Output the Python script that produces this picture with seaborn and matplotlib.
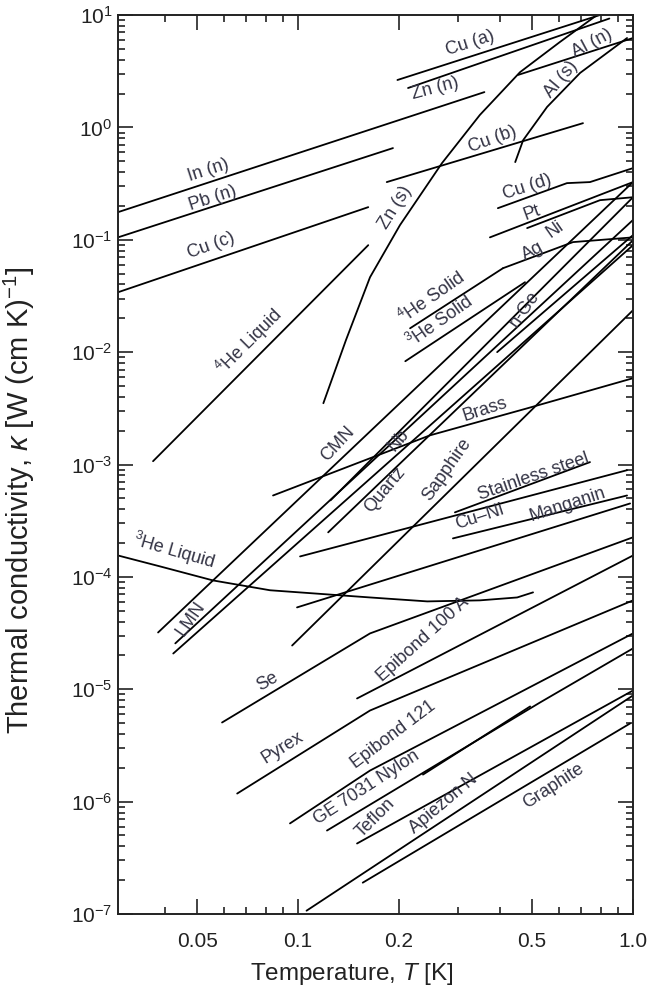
import numpy as np
import pandas as pd
import matplotlib
matplotlib.use('Agg')
import matplotlib.pyplot as plt
import seaborn as sns
from matplotlib.ticker import FixedLocator, NullFormatter, LogFormatterSciNotation

# ---- data: temperature T [K], conductivity kappa [W/(cm K)] ----
in_n_T = [0.029, 0.36]
in_n_k = [0.176, 2.06]
pb_n_T = [0.029, 0.192]
pb_n_k = [0.105, 0.654]
cu_c_T = [0.029, 0.162]
cu_c_k = [0.0341, 0.195]
cu_a_T = [0.198, 0.797]
cu_a_k = [2.64, 10.0]
zn_n_T = [0.213, 0.85]
zn_n_k = [2.24, 9.3]
zn_s_T = [0.119, 0.139, 0.164, 0.2015, 0.269, 0.349, 0.46, 0.605, 0.781]
zn_s_k = [0.00351, 0.0128, 0.0464, 0.135, 0.481, 1.29, 3.10, 5.75, 10.0]
al_n_T = [0.454, 1.0]
al_n_k = [2.93, 6.24]
al_s_T = [0.445, 0.47, 0.554, 0.695, 0.96]
al_s_k = [0.491, 0.77, 1.52, 3.05, 6.24]
cu_b_T = [0.184, 0.709]
cu_b_k = [0.326, 1.09]
cu_d_T = [0.395, 0.635, 0.744, 1.0]
cu_d_k = [0.191, 0.319, 0.326, 0.434]
pt_T = [0.483, 0.797, 1.0]
pt_k = [0.127, 0.225, 0.239]
ni_T = [0.374, 1.0]
ni_k = [0.105, 0.326]
ag_T = [0.409, 0.662, 1.0]
ag_k = [0.0558, 0.0953, 0.105]
he4_sol_T = [0.216, 0.409]
he4_sol_k = [0.0163, 0.0558]
he3_sol_T = [0.209, 0.476]
he3_sol_k = [0.0083, 0.0419]
nge_T = [0.393, 1.0]
nge_k = [0.0100, 0.110]
he4_liq_T = [0.0369, 0.162]
he4_liq_k = [0.00107, 0.0895]
he3_liq_T = [0.029, 0.0387, 0.0557, 0.0825, 0.164, 0.243, 0.349, 0.451, 0.503]
he3_liq_k = [1.55e-4, 1.24e-4, 9.3e-5, 7.6e-5, 6.56e-5, 6.05e-5, 6.18e-5, 6.56e-5, 7.28e-5]
cmn_T = [0.0382, 1.0]
cmn_k = [3.2e-5, 0.326]
lmn1_T = [0.043, 1.0]
lmn1_k = [2.56e-5, 0.150]
lmn2_T = [0.0424, 1.0]
lmn2_k = [2.08e-5, 0.0895]
nb_T = [0.125, 1.0]
nb_k = [4.8e-4, 0.239]
quartz_T = [0.123, 1.0]
quartz_k = [2.49e-4, 0.099]
sapphire_T = [0.096, 1.0]
sapphire_k = [2.45e-5, 0.0236]
brass_T = [0.0842, 0.153, 0.248, 0.483, 1.0]
brass_k = [5.3e-4, 1.05e-3, 1.82e-3, 3.16e-3, 5.86e-3]
steel_T = [0.294, 0.744]
steel_k = [3.75e-4, 1.05e-3]
cuni_T = [0.1014, 0.96]
cuni_k = [1.52e-4, 8.9e-4]
manganin_T = [0.29, 0.96]
manganin_k = [2.2e-4, 5.3e-4]
low_alloy_T = [0.0993, 0.98]
low_alloy_k = [5.35e-5, 4.5e-4]
se_T = [0.0593, 0.164, 1.0]
se_k = [5.06e-6, 3.14e-5, 2.25e-4]
epi100_T = [0.150, 1.0]
epi100_k = [8.28e-6, 1.55e-4]
pyrex_T = [0.0658, 0.164, 1.0]
pyrex_k = [1.18e-6, 6.47e-6, 6.18e-5]
epi121_T = [0.0946, 0.164, 1.0]
epi121_k = [6.4e-7, 1.89e-6, 3.14e-5]
ge7031_T = [0.122, 0.528, 1.0]
ge7031_k = [5.53e-7, 7.63e-6, 2.31e-5]
nylon_T = [0.236, 0.493]
nylon_k = [1.74e-6, 7.03e-6]
teflon_T = [0.150, 1.0]
teflon_k = [4.24e-7, 9.75e-6]
apiezon_T = [0.106, 1.0]
apiezon_k = [1.07e-7, 8.81e-6]
graphite_T = [0.156, 0.98]
graphite_k = [1.9e-7, 4.96e-6]

curves = [
    (in_n_T, in_n_k), (pb_n_T, pb_n_k), (cu_c_T, cu_c_k), (cu_a_T, cu_a_k),
    (zn_n_T, zn_n_k), (zn_s_T, zn_s_k), (al_n_T, al_n_k), (al_s_T, al_s_k),
    (cu_b_T, cu_b_k), (cu_d_T, cu_d_k), (pt_T, pt_k), (ni_T, ni_k),
    (ag_T, ag_k), (he4_sol_T, he4_sol_k), (he3_sol_T, he3_sol_k), (nge_T, nge_k),
    (he4_liq_T, he4_liq_k), (he3_liq_T, he3_liq_k), (cmn_T, cmn_k),
    (lmn1_T, lmn1_k), (lmn2_T, lmn2_k), (nb_T, nb_k), (quartz_T, quartz_k),
    (sapphire_T, sapphire_k), (brass_T, brass_k), (steel_T, steel_k),
    (cuni_T, cuni_k), (manganin_T, manganin_k), (low_alloy_T, low_alloy_k),
    (se_T, se_k), (epi100_T, epi100_k), (pyrex_T, pyrex_k), (epi121_T, epi121_k),
    (ge7031_T, ge7031_k), (nylon_T, nylon_k), (teflon_T, teflon_k),
    (apiezon_T, apiezon_k), (graphite_T, graphite_k),
]

# labels: text, x, y (axes fraction), rotation
labels = [
    ('Cu (a)', .683, .969, 18), ('Zn (n)', .616, .918, 15), ('Al (n)', .920, .969, 28),
    ('Al (s)', .860, .928, 50), ('In (n)', .175, .827, 18), ('Pb (n)', .183, .796, 18),
    ('Cu (b)', .728, .861, 20), ('Zn (s)', .538, .786, 58), ('Cu (c)', .181, .743, 20),
    ('Cu (d)', .794, .808, 18), ('Pt', .804, .780, 20), ('Ni', .849, .761, 35),
    ('Ag', .806, .737, 28), ('$^4$He Solid', .610, .686, 35), ('$^3$He Solid', .625, .659, 35),
    ('n-Ge', .790, .673, 55), ('$^4$He Liquid', .256, .637, 45), ('CMN', .427, .523, 47),
    ('Nb', .544, .527, 50), ('Brass', .713, .561, 18), ('Quartz', .518, .472, 50),
    ('Sapphire', .639, .494, 55), ('Stainless steel', .806, .486, 19), ('Cu–Ni', .703, .442, 18),
    ('Manganin', .872, .455, 18), ('$^3$He Liquid', .109, .404, -16), ('LMN', .142, .328, 55),
    ('Se', .291, .258, 30), ('Epibond 100 A', .592, .305, 42), ('Pyrex', .320, .185, 32),
    ('Epibond 121', .534, .199, 37), ('GE 7031 Nylon', .483, .141, 33), ('Teflon', .499, .107, 45),
    ('Apiezon N', .631, .123, 40), ('Graphite', .845, .142, 33),
]

x_major = [0.05, 0.1, 0.2, 0.5, 1.0]
x_major_labels = ['0.05', '0.1', '0.2', '0.5', '1.0']
x_minor = [0.04, 0.06, 0.07, 0.08, 0.09, 0.3, 0.4, 0.6, 0.7, 0.8, 0.9]
y_major = [10.0 ** e for e in range(-7, 2)]
y_minor = [m * 10.0 ** e for e in range(-7, 1) for m in range(2, 10)]

sns.set_theme(style='ticks')
plt.rcParams['font.family'] = ['Liberation Sans', 'DejaVu Sans']
plt.rcParams['mathtext.fontset'] = 'custom'
plt.rcParams['mathtext.rm'] = 'Liberation Sans'
plt.rcParams['mathtext.it'] = 'Liberation Sans:italic'

fig = plt.figure(figsize=(6.52, 9.94), dpi=100)
ax = fig.add_axes([118 / 652, 80 / 994, 515 / 652, 899 / 994])

for T, k in curves:
    sns.lineplot(x=T, y=k, ax=ax, color='black', lw=1.3, sort=False, estimator=None)

ax.set_xscale('log')
ax.set_yscale('log')
ax.set_xlim(0.029, 1.0)
ax.set_ylim(1e-7, 10)

ax.xaxis.set_major_locator(FixedLocator(x_major))
ax.set_xticklabels(x_major_labels)
ax.xaxis.set_minor_locator(FixedLocator(x_minor))
ax.xaxis.set_minor_formatter(NullFormatter())
ax.yaxis.set_major_locator(FixedLocator(y_major))
ax.yaxis.set_major_formatter(LogFormatterSciNotation())
ax.yaxis.set_minor_locator(FixedLocator(y_minor))
ax.yaxis.set_minor_formatter(NullFormatter())

ax.tick_params(which='both', direction='in', top=True, right=True, width=1.2, colors='#222222')
ax.tick_params(which='major', length=11, labelsize=15)
ax.tick_params(which='minor', length=5)
ax.tick_params(axis='x', which='major', pad=13)
ax.tick_params(axis='y', which='major', pad=4)
for s in ax.spines.values():
    s.set_linewidth(1.4)
    s.set_color('#222222')

ax.set_xlabel('Temperature, $T$ [K]', fontsize=17.5, color='#222222')
ax.xaxis.set_label_coords(0.454, -0.052)
ax.set_ylabel(r'Thermal conductivity, $\kappa$ [W (cm K)$^{-1}$]', fontsize=21,
              color='#222222')
ax.yaxis.set_label_coords(-0.158, 0.46)

for txt, fx, fy, rot in labels:
    ax.text(fx, fy, txt, transform=ax.transAxes, rotation=rot, rotation_mode='anchor',
            ha='center', va='center', fontsize=13, color='#333344')

fig.savefig('out.png', dpi=100)
